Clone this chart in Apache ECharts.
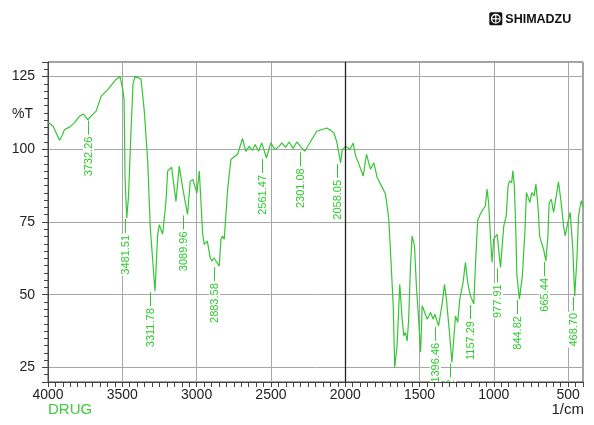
<!DOCTYPE html>
<html><head><meta charset="utf-8">
<script src="https://cdn.jsdelivr.net/npm/echarts@6/dist/echarts.min.js"></script>
<style>html,body{margin:0;padding:0;background:#fff}#c{width:594px;height:425px}</style>
</head><body><div id="c"></div>
<script>
const wavenumbers = [4000,3965,3923,3904,3889,3855,3824,3788,3761,3732.26,3710,3676,3643,3598,3542,3515,3505,3497,3488,3481.51,3470,3458,3441,3428,3414,3401,3374,3352,3329,3311.78,3280,3262,3251,3229,3206,3195,3168,3139,3117,3089.96,3061,3043,3025,2998,2982,2959,2948,2928,2908,2897,2883.58,2848,2836,2826,2814,2791,2769,2724,2691,2669,2646,2624,2606,2583,2561.47,2530,2501,2472,2445,2427,2400,2378,2351,2326,2301.08,2271,2221,2192,2150,2125,2098,2076,2058.05,2031,2020,1997,1969,1946,1930,1908,1879,1857,1830,1808,1785,1751,1729,1718,1707,1695,1677,1667,1651,1633,1617,1606,1595,1583,1573,1561,1550,1534,1521,1506,1493,1482,1471,1448,1426,1408,1396.46,1372,1348,1332,1319,1296.72,1282,1270,1258,1243,1229,1207,1191,1176,1157.29,1135,1124,1109,1091,1079,1057,1046,1035,1023,1012,1001,977.91,955,933,917,904,895,880,872,862,853,844.82,828,808,790,781,770,757,745,729,717,703,692,680,665.44,650,636,628,613,598,580,565,547,531,520,508,497,486,468.70,456,441,430,412,400];
const transmittance = [109.3,107.9,103.1,104.8,106.8,107.6,109.0,111.4,112.1,110.2,111.4,113.1,118.2,120.5,124.0,125.1,125.1,120.6,117.2,90,76.4,84,106.9,122.4,125.1,125.4,124.1,113.1,95.9,73.0,51.2,70.7,74.1,70.8,82.1,92.5,93.8,82.1,94.2,85.6,77.6,89.0,89.6,85.0,92.5,70.7,67.3,68.4,62.7,61.5,62.7,59.8,69.1,70.2,69.1,86.3,96.6,98.3,103.7,99.3,101.0,99.6,101.6,99.3,102.2,97.0,102.2,99.9,101.0,102.2,100.7,102.5,100.3,102.5,101.0,99.3,103.7,106.2,106.9,107.3,106.5,105.6,102.8,95.3,99.9,101.0,100.0,102.1,97.7,94.9,90.8,98.3,93.1,95.4,90.3,86.9,84.6,80.5,76.0,64.5,46.2,25.0,32.4,53.6,41.6,35.9,37.0,34.1,41.6,59.9,70.2,66.8,53.0,41.6,30.2,46.2,46.8,41.6,43.9,41.6,43.3,39.3,46.8,53.6,48.5,35.9,26.7,34.7,42.7,40.5,48.5,54.2,61.1,54.2,49.6,46.8,59.9,75.4,77.7,78.8,80.5,86.3,81.7,70.2,61.1,69.1,70.8,59.4,73.7,77.1,87.4,89.1,88.6,92.6,87.4,73.7,56.5,48.5,56.5,72.5,85.1,85.7,81.7,85.1,84.0,88.0,80.5,70.2,68.0,65.7,61.6,70.2,81.7,82.8,78.3,84.0,88.8,81.7,73.7,70.2,69.7,76.0,78.3,65.7,49.6,62.2,77.1,82.3,80.0,69.1];
const peakWavenumbers = [3732.26,3481.51,3311.78,3089.96,2883.58,2561.47,2301.08,2058.05,1396.46,1296.72,1157.29,977.91,844.82,665.44,468.70];
const peakTransmittance = [110.2,76.4,51.2,77.6,59.8,97.0,99.3,95.3,39.3,26.7,46.8,59.4,48.5,61.6,49.6];
const peakLabels = ['3732.26','3481.51','3311.78','3089.96','2883.58','2561.47','2301.08','2058.05','1396.46','1296.72','1157.29','977.91','844.82','665.44','468.70'];
const xTickValues = [4000,3500,3000,2500,2000,1500,1000,500];
const yTickValues = [25,50,75,100,125];
const sampleName = 'DRUG';

const FONT = '"Liberation Sans", Arial, sans-serif';
const GREEN = '#34c634';
const chart = echarts.init(document.getElementById('c'), null, {renderer: 'canvas'});
chart.setOption({
  animation: false,
  backgroundColor: '#fff',
  grid: {left: 48, right: 11, top: 62, bottom: 43, show: true, borderColor: '#444', borderWidth: 1},
  xAxis: {
    type: 'value', inverse: true, min: 400, max: 4000, minInterval: 500, maxInterval: 500,
    axisLine: {show: true, lineStyle: {color: '#444', width: 1}},
    axisTick: {show: true, length: 5, lineStyle: {color: '#444'}},
    minorTick: {show: true, splitNumber: 10, length: 5, lineStyle: {color: '#444'}},
    axisLabel: {color: '#222', fontSize: 14, fontFamily: FONT, margin: 6, showMinLabel: false,
      formatter: v => xTickValues.includes(v) ? String(v) : ''},
    splitLine: {show: true, lineStyle: {color: '#a6a6a6', width: 1}}
  },
  yAxis: {
    type: 'value', min: 20, max: 130, minInterval: 25, maxInterval: 25,
    axisLine: {show: true, lineStyle: {color: '#444', width: 1}},
    axisTick: {show: true, length: 6, lineStyle: {color: '#444'}},
    minorTick: {show: true, splitNumber: 10, length: 4, lineStyle: {color: '#444'}},
    axisLabel: {color: '#222', fontSize: 14, fontFamily: FONT, margin: 13, showMinLabel: false, showMaxLabel: false,
      formatter: v => yTickValues.includes(v) ? String(v) : ''},
    splitLine: {show: true, lineStyle: {color: '#a6a6a6', width: 1}}
  },
  series: [
    {
      type: 'line', showSymbol: false, symbol: 'none', z: 3,
      data: wavenumbers.map((w, i) => [w, transmittance[i]]),
      lineStyle: {color: GREEN, width: 1.2},
      markLine: {silent: true, symbol: 'none', label: {show: false},
        lineStyle: {color: '#222', width: 1.3, type: 'solid'}, data: [{xAxis: 2000}]}
    },
    {
      type: 'custom', clip: true, z: 5,
      data: peakWavenumbers.map((w, i) => [w, peakTransmittance[i]]),
      renderItem: function (params, api) {
        const p = api.coord([api.value(0), api.value(1)]);
        const x = Math.round(p[0]) + 0.5;
        return {type: 'group', children: [
          {type: 'line', shape: {x1: x, y1: p[1] + 1, x2: x, y2: p[1] + 15}, style: {stroke: GREEN, lineWidth: 1}},
          {type: 'text', x: x, y: p[1] + 16, rotation: Math.PI / 2,
            style: {text: peakLabels[params.dataIndex], fill: '#2dcc2d', font: '11px ' + FONT,
              align: 'right', verticalAlign: 'middle', backgroundColor: '#fff', padding: [0, 1]}}
        ]};
      }
    }
  ],
  graphic: [
    {type: 'text', left: 12, top: 107, style: {text: '%T', fill: '#222', font: '14px ' + FONT}},
    {type: 'text', left: 48, top: 402, style: {text: sampleName, fill: '#3ccc3c', font: '15px ' + FONT}},
    {type: 'text', right: 10, top: 402, style: {text: '1/cm', fill: '#222', font: '15px ' + FONT}},
    {type: 'group', left: 489, top: 12, children: [
      {type: 'rect', shape: {x: 0, y: 0, width: 13, height: 13, r: 1.5}, style: {fill: '#111'}},
      {type: 'circle', shape: {cx: 6.5, cy: 6.5, r: 4.3}, style: {fill: 'none', stroke: '#fff', lineWidth: 1.3}},
      {type: 'line', shape: {x1: 6.5, y1: 2.5, x2: 6.5, y2: 10.5}, style: {stroke: '#fff', lineWidth: 1.2}},
      {type: 'line', shape: {x1: 2.5, y1: 6.5, x2: 10.5, y2: 6.5}, style: {stroke: '#fff', lineWidth: 1.2}},
      {type: 'text', x: 16, y: 0.5, style: {text: 'SHIMADZU', fill: '#111', font: 'bold 12.5px ' + FONT}}
    ]}
  ]
});
</script>
</body></html>
